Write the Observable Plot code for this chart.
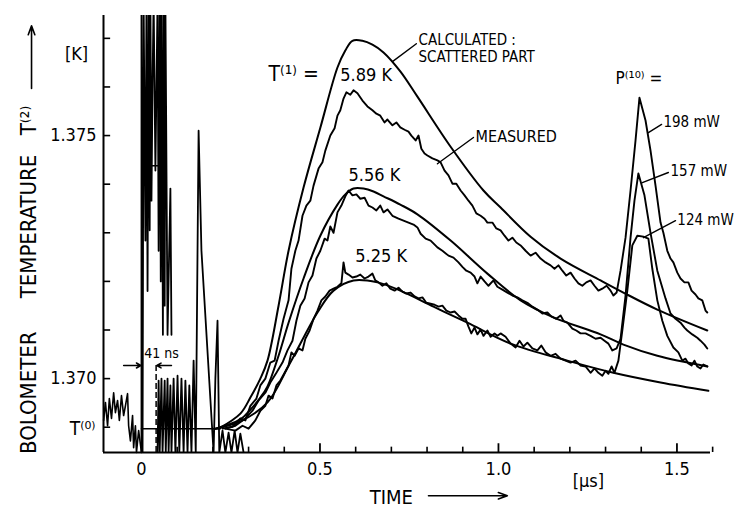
<!DOCTYPE html>
<html><head><meta charset="utf-8">
<script src="https://cdn.jsdelivr.net/npm/d3@7"></script>
<script src="https://cdn.jsdelivr.net/npm/@observablehq/plot@0.6"></script>
<style>body{margin:0;background:#fff}#chart svg{display:block}</style>
</head><body><div id="chart"></div>
<script>
// time t in microseconds, bolometer temperature T(2) in kelvin
const xTickLabels = [0, 0.5, 1.0, 1.5];
const yTickLabels = [1.370, 1.375];
const xMinorTicks = [0.1,0.2,0.3,0.4,0.6,0.7,0.8,0.9,1.1,1.2,1.3,1.4,1.6];
const xMajorTicks = [0.5,1.0,1.5];
const yMinorTicks = [1.369,1.370,1.371,1.372,1.373,1.374,1.375,1.376,1.377];
const T0 = 1.36897;
const baseline = [[0,T0],[0.221,T0]];

const calc589 = [[0.216,1.36897],[0.277,1.36928],[0.305,1.36961],[0.333,1.37000],[0.353,1.37037],[0.384,1.37150],[0.412,1.37263],[0.454,1.37393],[0.501,1.37516],[0.549,1.37640],[0.571,1.37675],[0.591,1.37695],[0.619,1.37695],[0.647,1.37687],[0.678,1.37671],[0.725,1.37632],[0.773,1.37580],[0.866,1.37477],[0.958,1.37387],[1.006,1.37352],[1.090,1.37292],[1.174,1.37247],[1.286,1.37202],[1.350,1.37177],[1.445,1.37142],[1.585,1.37099]];
const calc556 = [[0.207,1.36897],[0.277,1.36916],[0.305,1.36936],[0.333,1.36961],[0.353,1.36984],[0.384,1.37047],[0.412,1.37115],[0.454,1.37206],[0.501,1.37294],[0.549,1.37358],[0.571,1.37379],[0.594,1.37391],[0.622,1.37391],[0.650,1.37385],[0.678,1.37375],[0.725,1.37358],[0.773,1.37338],[0.866,1.37284],[0.969,1.37216],[1.062,1.37161],[1.154,1.37126],[1.286,1.37091],[1.350,1.37070],[1.445,1.37047],[1.585,1.37025]];
const calc525 = [[0.207,1.36897],[0.277,1.36912],[0.353,1.36951],[0.417,1.37033],[0.493,1.37136],[0.538,1.37181],[0.594,1.37202],[0.661,1.37198],[0.725,1.37181],[0.818,1.37148],[0.913,1.37115],[1.034,1.37072],[1.193,1.37037],[1.322,1.37012],[1.454,1.36992],[1.588,1.36975]];

const meas589 = [[0.227,1.36897],[0.255,1.36901],[0.277,1.36918],[0.291,1.36914],[0.305,1.36944],[0.322,1.36959],[0.333,1.36986],[0.347,1.37000],[0.361,1.37033],[0.373,1.37037],[0.384,1.37078],[0.398,1.37123],[0.412,1.37161],[0.420,1.37226],[0.431,1.37263],[0.440,1.37284],[0.451,1.37335],[0.462,1.37356],[0.473,1.37366],[0.482,1.37397],[0.496,1.37432],[0.507,1.37445],[0.515,1.37469],[0.529,1.37500],[0.541,1.37515],[0.549,1.37541],[0.557,1.37552],[0.566,1.37576],[0.574,1.37589],[0.585,1.37584],[0.594,1.37593],[0.605,1.37587],[0.619,1.37572],[0.633,1.37560],[0.647,1.37552],[0.658,1.37545],[0.669,1.37541],[0.681,1.37527],[0.689,1.37533],[0.703,1.37521],[0.714,1.37527],[0.725,1.37517],[0.737,1.37512],[0.748,1.37508],[0.756,1.37500],[0.768,1.37490],[0.776,1.37500],[0.784,1.37473],[0.793,1.37463],[0.801,1.37459],[0.815,1.37453],[0.829,1.37449],[0.838,1.37445],[0.849,1.37428],[0.860,1.37418],[0.871,1.37401],[0.882,1.37401],[0.894,1.37387],[0.905,1.37377],[0.916,1.37366],[0.927,1.37356],[0.938,1.37340],[0.950,1.37335],[0.961,1.37329],[0.969,1.37321],[0.983,1.37321],[0.994,1.37309],[1.006,1.37305],[1.017,1.37294],[1.028,1.37284],[1.039,1.37290],[1.050,1.37280],[1.062,1.37274],[1.076,1.37263],[1.090,1.37253],[1.104,1.37259],[1.118,1.37247],[1.132,1.37239],[1.146,1.37233],[1.157,1.37226],[1.168,1.37233],[1.179,1.37222],[1.190,1.37212],[1.202,1.37218],[1.213,1.37206],[1.224,1.37196],[1.235,1.37191],[1.246,1.37198],[1.258,1.37202],[1.269,1.37191],[1.280,1.37181],[1.291,1.37185],[1.303,1.37191],[1.314,1.37181],[1.322,1.37171],[1.331,1.37177],[1.342,1.37222],[1.356,1.37290],[1.370,1.37387],[1.384,1.37490],[1.395,1.37578],[1.412,1.37531],[1.426,1.37469],[1.440,1.37397],[1.454,1.37321],[1.462,1.37300],[1.473,1.37263],[1.482,1.37247],[1.490,1.37239],[1.501,1.37218],[1.510,1.37206],[1.521,1.37198],[1.532,1.37198],[1.541,1.37181],[1.552,1.37173],[1.560,1.37165],[1.571,1.37161],[1.580,1.37140],[1.585,1.37136]];
const meas556 = [[0.235,1.36897],[0.263,1.36903],[0.291,1.36918],[0.311,1.36934],[0.328,1.36955],[0.347,1.36971],[0.361,1.36992],[0.378,1.37012],[0.395,1.37033],[0.409,1.37058],[0.423,1.37078],[0.434,1.37119],[0.445,1.37150],[0.457,1.37165],[0.468,1.37198],[0.479,1.37212],[0.490,1.37247],[0.501,1.37263],[0.513,1.37288],[0.521,1.37284],[0.529,1.37313],[0.538,1.37300],[0.549,1.37342],[0.560,1.37356],[0.571,1.37375],[0.580,1.37387],[0.591,1.37377],[0.602,1.37379],[0.613,1.37370],[0.625,1.37372],[0.636,1.37356],[0.647,1.37352],[0.658,1.37346],[0.669,1.37356],[0.678,1.37342],[0.689,1.37348],[0.703,1.37335],[0.720,1.37329],[0.734,1.37325],[0.748,1.37321],[0.762,1.37317],[0.773,1.37311],[0.782,1.37298],[0.796,1.37288],[0.810,1.37284],[0.829,1.37270],[0.843,1.37263],[0.860,1.37253],[0.874,1.37249],[0.888,1.37239],[0.899,1.37230],[0.910,1.37222],[0.922,1.37218],[0.933,1.37210],[0.941,1.37196],[0.950,1.37210],[0.961,1.37200],[0.972,1.37191],[0.986,1.37202],[0.997,1.37189],[1.011,1.37183],[1.025,1.37177],[1.039,1.37171],[1.053,1.37167],[1.067,1.37161],[1.081,1.37156],[1.095,1.37148],[1.109,1.37142],[1.123,1.37134],[1.137,1.37136],[1.148,1.37128],[1.162,1.37123],[1.174,1.37130],[1.182,1.37119],[1.193,1.37115],[1.207,1.37103],[1.218,1.37099],[1.230,1.37093],[1.244,1.37093],[1.258,1.37088],[1.272,1.37082],[1.286,1.37084],[1.297,1.37078],[1.308,1.37072],[1.319,1.37058],[1.331,1.37062],[1.342,1.37082],[1.356,1.37171],[1.370,1.37290],[1.381,1.37366],[1.392,1.37422],[1.409,1.37377],[1.426,1.37300],[1.445,1.37222],[1.468,1.37165],[1.482,1.37134],[1.496,1.37123],[1.510,1.37115],[1.521,1.37105],[1.529,1.37099],[1.543,1.37091],[1.557,1.37084],[1.566,1.37078],[1.577,1.37070],[1.585,1.37062]];
const meas525 = [[0.235,1.36897],[0.263,1.36893],[0.283,1.36903],[0.300,1.36897],[0.319,1.36914],[0.333,1.36934],[0.347,1.36944],[0.356,1.36965],[0.367,1.36959],[0.378,1.36986],[0.389,1.36996],[0.401,1.37012],[0.412,1.37027],[0.420,1.37054],[0.429,1.37047],[0.440,1.37062],[0.451,1.37058],[0.459,1.37082],[0.471,1.37099],[0.482,1.37123],[0.493,1.37140],[0.504,1.37161],[0.515,1.37169],[0.527,1.37181],[0.538,1.37185],[0.549,1.37189],[0.560,1.37196],[0.566,1.37239],[0.571,1.37218],[0.580,1.37214],[0.591,1.37208],[0.602,1.37210],[0.613,1.37214],[0.625,1.37206],[0.636,1.37210],[0.647,1.37216],[0.655,1.37202],[0.664,1.37198],[0.675,1.37191],[0.686,1.37196],[0.697,1.37185],[0.709,1.37181],[0.720,1.37187],[0.731,1.37179],[0.742,1.37175],[0.754,1.37177],[0.765,1.37169],[0.776,1.37165],[0.787,1.37167],[0.798,1.37156],[0.810,1.37154],[0.821,1.37152],[0.832,1.37148],[0.843,1.37150],[0.854,1.37140],[0.866,1.37136],[0.877,1.37138],[0.888,1.37130],[0.899,1.37123],[0.908,1.37123],[0.916,1.37107],[0.924,1.37093],[0.933,1.37105],[0.941,1.37091],[0.950,1.37101],[0.958,1.37088],[0.969,1.37099],[0.978,1.37086],[0.989,1.37093],[0.997,1.37088],[1.006,1.37093],[1.020,1.37086],[1.034,1.37072],[1.048,1.37064],[1.059,1.37078],[1.070,1.37066],[1.081,1.37074],[1.095,1.37062],[1.109,1.37058],[1.120,1.37068],[1.132,1.37054],[1.146,1.37047],[1.160,1.37051],[1.174,1.37041],[1.188,1.37037],[1.202,1.37033],[1.216,1.37037],[1.230,1.37027],[1.244,1.37025],[1.258,1.37012],[1.269,1.37021],[1.280,1.37012],[1.291,1.37006],[1.300,1.37016],[1.308,1.37010],[1.317,1.37025],[1.325,1.37012],[1.336,1.37037],[1.347,1.37099],[1.361,1.37181],[1.375,1.37274],[1.389,1.37294],[1.406,1.37292],[1.420,1.37288],[1.431,1.37226],[1.445,1.37161],[1.459,1.37119],[1.473,1.37088],[1.490,1.37064],[1.504,1.37054],[1.515,1.37037],[1.524,1.37041],[1.532,1.37031],[1.541,1.37027],[1.549,1.37037],[1.557,1.37025],[1.566,1.37021],[1.574,1.37029],[1.585,1.37025]];

// signal before the pulse and pickup of the laser pulse (off scale values clipped)
const preNoise = [[-0.106,1.36914],[-0.101,1.36951],[-0.095,1.36903],[-0.090,1.36959],[-0.084,1.36918],[-0.078,1.36971],[-0.073,1.36930],[-0.067,1.36955],[-0.062,1.36914],[-0.056,1.36965],[-0.050,1.36924],[-0.045,1.36944],[-0.039,1.36969],[-0.036,1.36903],[-0.031,1.36872],[-0.025,1.36924],[-0.022,1.36858],[-0.017,1.36903],[-0.014,1.36848],[-0.008,1.36893],[0,1.36848]];
const pickupTop = [[0,1.36848],[0,1.3778],[0.003,1.36848],[0.006,1.3778],[0.011,1.37284],[0.014,1.3778],[0.017,1.37180],[0.020,1.3778],[0.023,1.37305],[0.025,1.3778],[0.028,1.37366],[0.031,1.37609],[0.034,1.3778],[0.039,1.37428],[0.045,1.3778],[0.048,1.37263],[0.051,1.3778],[0.054,1.37200],[0.056,1.3778],[0.060,1.37090],[0.062,1.3778],[0.065,1.37150],[0.067,1.3778],[0.073,1.37090],[0.081,1.37391],[0.084,1.37090]];
const pickupBottom = [[0.045,1.36848],[0.048,1.36996],[0.051,1.36848],[0.056,1.37000],[0.059,1.36848],[0.065,1.36996],[0.068,1.36848],[0.073,1.37000],[0.076,1.36848],[0.081,1.36986],[0.084,1.36848],[0.090,1.37000],[0.095,1.36848],[0.101,1.37006],[0.106,1.36848],[0.112,1.37000],[0.118,1.36848],[0.123,1.36996],[0.129,1.36848],[0.134,1.36986],[0.140,1.36848],[0.146,1.37037],[0.152,1.36848],[0.160,1.37510],[0.168,1.37263],[0.202,1.36848],[0.207,1.37000],[0.213,1.37119],[0.218,1.36848],[0.227,1.36893],[0.235,1.36848],[0.244,1.36889],[0.252,1.36848],[0.261,1.36893],[0.269,1.36848],[0.277,1.36887],[0.286,1.36848]];
const pickupBar = [[0.003,1.37438],[0.062,1.37438]];
const pulseDelay = 0.041; // 41 ns marker

const leaders = [
  [[0.703,1.37652],[0.770,1.37689]],
  [[0.829,1.37442],[0.930,1.37496]],
  [[1.420,1.37506],[1.457,1.37523]],
  [[1.403,1.37403],[1.476,1.37424]],
  [[1.406,1.37290],[1.496,1.37325]]
];
const axisArrows = [
  {x1:-0.308,y1:1.37597,x2:-0.308,y2:1.37726},
  {x1:0.804,y1:1.36759,x2:1.025,y2:1.36759}
];
const delayArrows = [
  {x1:-0.050,y1:1.37027,x2:-0.002,y2:1.37027},
  {x1:0.084,y1:1.37027,x2:0.043,y2:1.37027}
];
const labelsLeft = [
  {label:"T⁽¹⁾ =", t:0.356, T:1.37626, size:21},
  {label:"5.89 K", t:0.557, T:1.37624, size:18},
  {label:"5.56 K", t:0.580, T:1.37418, size:18},
  {label:"5.25 K", t:0.599, T:1.37251, size:18},
  {label:"CALCULATED :", t:0.776, T:1.37696, size:15},
  {label:"SCATTERED PART", t:0.776, T:1.37661, size:15},
  {label:"MEASURED", t:0.936, T:1.37498, size:16},
  {label:"P⁽¹⁰⁾ =", t:1.328, T:1.37617, size:17},
  {label:"198 mW", t:1.462, T:1.37527, size:15},
  {label:"157 mW", t:1.482, T:1.37426, size:15},
  {label:"124 mW", t:1.501, T:1.37325, size:15}
];
const labelsMid = [
  {label:"41 ns", t:0.056, T:1.37051, size:14},
  {label:"[K]", t:-0.182, T:1.37667, size:18},
  {label:"TIME", t:0.700, T:1.36755, size:20},
  {label:"[μs]", t:1.252, T:1.36788, size:18}
];
const labelsRot = [
  {label:"BOLOMETER", t:-0.314, T:1.36971},
  {label:"TEMPERATURE", t:-0.314, T:1.37313},
  {label:"T⁽²⁾", t:-0.314, T:1.37531}
];

const FONT = "'DejaVu Sans Condensed','Liberation Sans Narrow','DejaVu Sans',sans-serif";
const xDomain = [-0.1064, 1.594];
const yDomain = [1.36848, 1.37747];

const toRows = (id, arr) => arr.map(([t, T]) => ({id, t, T}));
const calcRows = [...toRows("c589", calc589), ...toRows("c556", calc556), ...toRows("c525", calc525)];
const measRows = [...toRows("m589", meas589), ...toRows("m556", meas556), ...toRows("m525", meas525)];
const pickupRows = [...toRows("top", pickupTop), ...toRows("bottom", pickupBottom)];
const leaderRows = leaders.flatMap((seg, i) => toRows("l" + i, seg));

const chart = Plot.plot({
  width: 745, height: 514,
  marginLeft: 103, marginRight: 35, marginTop: 15, marginBottom: 62,
  style: {fontFamily: FONT, fontSize: "18px", background: "#fff", color: "#000"},
  x: {domain: xDomain, ticks: xTickLabels, tickFormat: d => d === 0 ? "0" : d.toFixed(1), tickSize: 0, tickPadding: 10, label: null},
  y: {domain: yDomain, ticks: yTickLabels, tickFormat: d => d.toFixed(3), tickSize: 0, tickPadding: 7, label: null},
  marks: [
    Plot.ruleX([xDomain[0]], {stroke: "#000", strokeWidth: 2}),
    Plot.ruleY([yDomain[0]], {stroke: "#000", strokeWidth: 2}),
    Plot.ruleX(xMinorTicks, {x: d => d, y1: yDomain[0], y2: yDomain[0] + 0.00011, stroke: "#000", strokeWidth: 1.6}),
    Plot.ruleX(xMajorTicks, {x: d => d, y1: yDomain[0], y2: yDomain[0] + 0.00018, stroke: "#000", strokeWidth: 1.8}),
    Plot.ruleY(yMinorTicks, {y: d => d, x1: xDomain[0], x2: xDomain[0] + 0.02, stroke: "#000", strokeWidth: 1.6}),
    Plot.line(baseline, {x: d => d[0], y: d => d[1], stroke: "#000", strokeWidth: 1.6}),
    Plot.line(preNoise, {x: d => d[0], y: d => d[1], stroke: "#000", strokeWidth: 1.6}),
    Plot.line(pickupRows, {x: "t", y: "T", z: "id", stroke: "#000", strokeWidth: 1.8, clip: true}),
    Plot.line(pickupBar, {x: d => d[0], y: d => d[1], stroke: "#000", strokeWidth: 1.5}),
    Plot.ruleX([pulseDelay], {y1: yDomain[0], y2: 1.37027, stroke: "#000", strokeWidth: 1.5, strokeDasharray: "6,3"}),
    Plot.line(calcRows, {x: "t", y: "T", z: "id", curve: "catmull-rom", stroke: "#000", strokeWidth: 2}),
    Plot.line(measRows, {x: "t", y: "T", z: "id", stroke: "#000", strokeWidth: 1.9, strokeLinejoin: "round"}),
    Plot.line(leaderRows, {x: "t", y: "T", z: "id", stroke: "#000", strokeWidth: 1.4}),
    Plot.arrow(axisArrows, {x1: "x1", y1: "y1", x2: "x2", y2: "y2", headLength: 9, headAngle: 40, stroke: "#000", strokeWidth: 1.6}),
    Plot.arrow(delayArrows, {x1: "x1", y1: "y1", x2: "x2", y2: "y2", headLength: 5, headAngle: 60, stroke: "#000", strokeWidth: 1.5}),
    Plot.text(labelsLeft, {x: "t", y: "T", text: "label", fontSize: d => d.size, textAnchor: "start", fill: "#000"}),
    Plot.text(labelsMid, {x: "t", y: "T", text: "label", fontSize: d => d.size, textAnchor: "middle", fill: "#000"}),
    Plot.text(labelsRot, {x: "t", y: "T", text: "label", fontSize: 22, rotate: -90, textAnchor: "middle", fill: "#000"}),
    Plot.text(["T⁽⁰⁾"], {x: xDomain[0], y: T0, dx: -8, textAnchor: "end", fontSize: 19, fill: "#000"})
  ]
});
document.getElementById("chart").append(chart);
</script>
</body></html>
